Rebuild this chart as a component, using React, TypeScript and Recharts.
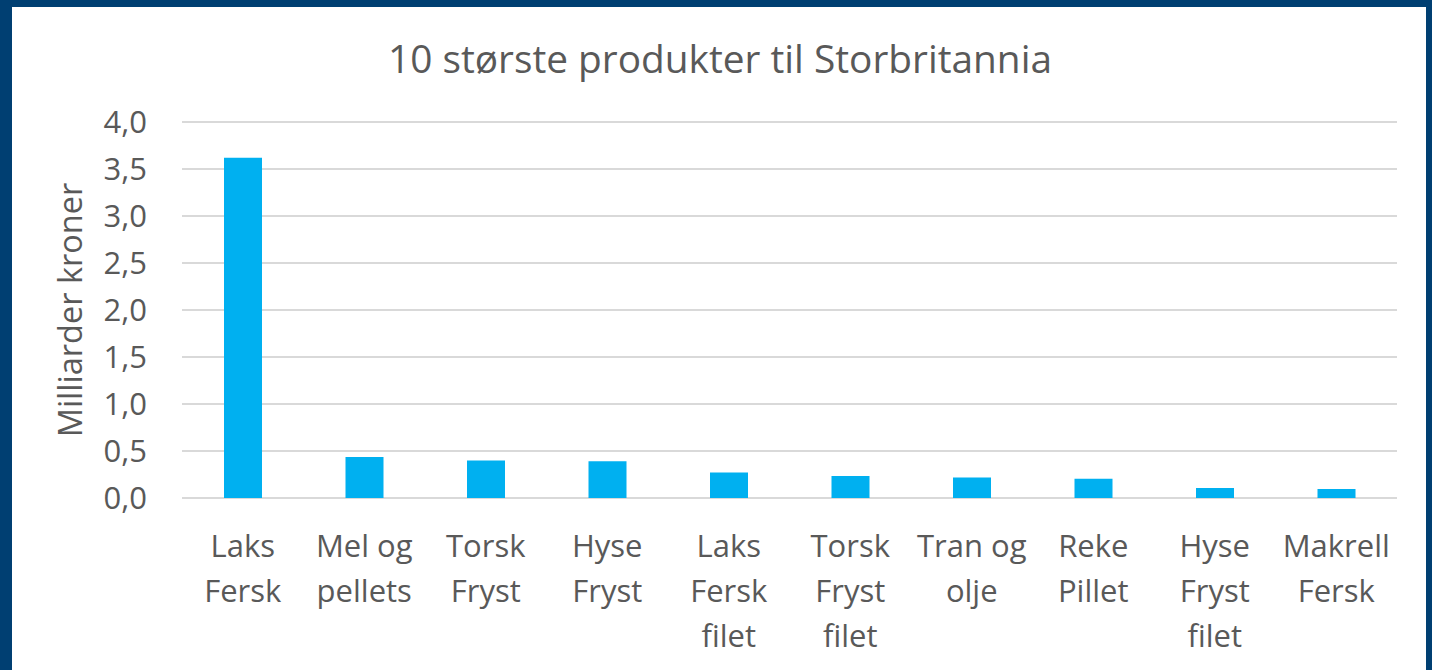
import { Bar, BarChart, CartesianGrid, Label, XAxis, YAxis } from "recharts";

const categories = [
  "Laks\nFersk",
  "Mel og\npellets",
  "Torsk\nFryst",
  "Hyse\nFryst",
  "Laks\nFersk\nfilet",
  "Torsk\nFryst\nfilet",
  "Tran og\nolje",
  "Reke\nPillet",
  "Hyse\nFryst\nfilet",
  "Makrell\nFersk",
];
const values = [3.62, 0.436, 0.4, 0.39, 0.27, 0.234, 0.217, 0.206, 0.106, 0.096];
const yTicks = [0, 0.5, 1, 1.5, 2, 2.5, 3, 3.5, 4];

const data = categories.map((name, i) => ({ name, value: values[i] }));

const font = "'Open Sans', sans-serif";
const textColor = "#595959";
const W = 1414;
const H = 663;

function CategoryTick({ x, y, payload }: any) {
  const lines = String(payload.value).split("\n");
  return (
    <text x={x} y={y + 59} textAnchor="middle" fill={textColor} fontSize={31} fontFamily={font}>
      {lines.map((l, i) => (
        <tspan key={i} x={x} dy={i === 0 ? 0 : 45}>
          {l}
        </tspan>
      ))}
    </text>
  );
}

export default function App() {
  return (
    <div style={{ position: "fixed", left: 0, top: 0, width: 1432, height: 670, background: "#003F72" }}>
      <div style={{ position: "absolute", left: 12, top: 7, width: W, height: H, background: "#fff" }}>
        <BarChart width={W} height={H} data={data} margin={{ top: 115, right: 29, left: 0, bottom: 0 }}>
          <text x={W / 2 + 1} y={66} textAnchor="middle" fill={textColor} fontSize={38.8} fontFamily={font}>
            10 største produkter til Storbritannia
          </text>
          <CartesianGrid vertical={false} stroke="#d9d9d9" strokeWidth={2} />
          <XAxis
            dataKey="name"
            interval={0}
            axisLine={false}
            tickLine={false}
            tickSize={0}
            tickMargin={0}
            height={172}
            tick={<CategoryTick />}
          />
          <YAxis
            domain={[0, 4]}
            ticks={yTicks}
            width={170}
            axisLine={false}
            tickLine={false}
            tickSize={0}
            tickMargin={35}
            tickFormatter={(v: number) => v.toFixed(1).replace(".", ",")}
            tick={{ fill: textColor, fontSize: 31, fontFamily: font }}
          >
            <Label
              content={({ viewBox }: any) => {
                const cy = viewBox.y + viewBox.height / 2;
                return (
                  <text
                    x={70}
                    y={cy}
                    transform={`rotate(-90, 70, ${cy})`}
                    textAnchor="middle"
                    fill={textColor}
                    fontSize={32.5}
                    fontFamily={font}
                  >
                    Milliarder kroner
                  </text>
                );
              }}
            />
          </YAxis>
          <Bar dataKey="value" fill="#00B0F0" barSize={38} isAnimationActive={false} />
        </BarChart>
      </div>
    </div>
  );
}
